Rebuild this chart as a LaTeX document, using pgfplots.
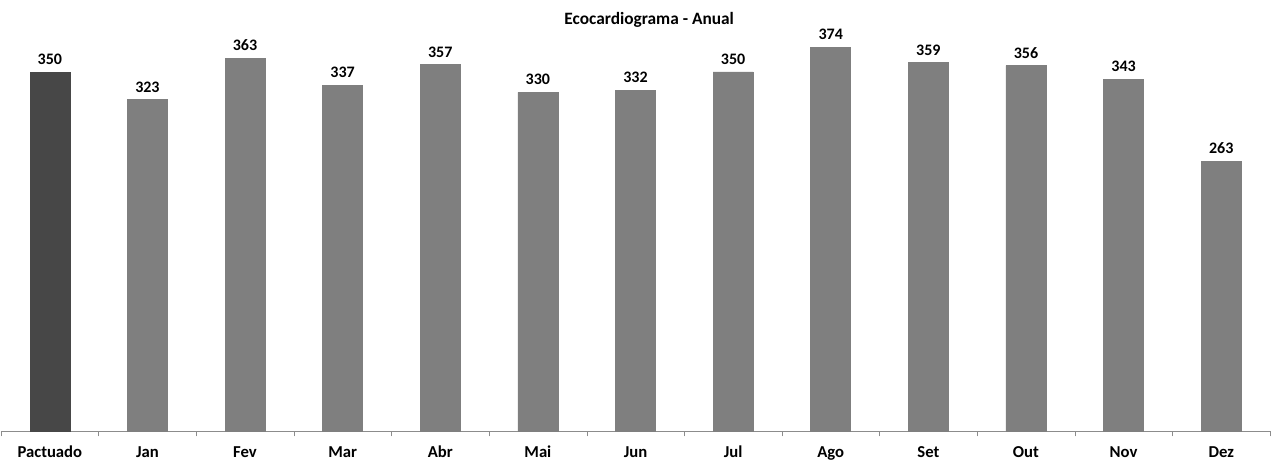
\documentclass[border=0pt]{standalone}
\usepackage{pgfplots}
\pgfplotsset{compat=1.18}
\usepackage{fontspec}
\setmainfont{Carlito}
\definecolor{darkbar}{HTML}{474747}
\definecolor{graybar}{HTML}{7F7F7F}
\definecolor{axisgray}{HTML}{8C8C8C}
\begin{document}
\begin{tikzpicture}[x=1pt,y=1pt]
\begin{axis}[
  scale only axis,
  width=951.75pt, height=323.25pt,
  xmin=-0.5, xmax=12.5, ymin=0, ymax=420,
  axis x line=bottom, axis y line=none,
  x axis line style={draw=axisgray, -},
  xtick={0,...,12},
  xticklabels={Pactuado,Jan,Fev,Mar,Abr,Mai,Jun,Jul,Ago,Set,Out,Nov,Dez},
  major tick length=0pt,
  minor xtick={-0.5,0.5,...,12.5},
  minor tick length=4pt,
  tick align=outside,
  tick style={draw=axisgray},
  xticklabel style={font=\fontsize{12.5}{14}\selectfont\bfseries, yshift=-7pt, text height=9pt, text depth=2pt},
  ybar, bar width=30pt, bar shift=0pt,
  /pgf/number format/assume math mode=true,
  nodes near coords,
  every node near coord/.append style={font=\fontsize{12}{14}\selectfont\bfseries, yshift=2pt},
  clip=false,
]
\addplot[fill=darkbar, draw=darkbar] coordinates {(0,350)};
\addplot[fill=graybar, draw=graybar] coordinates {
(1,323) (2,363) (3,337) (4,357) (5,330) (6,332) (7,350) (8,374) (9,359) (10,356) (11,343) (12,263)};
\node[font=\fontsize{13}{15}\selectfont\bfseries] at (axis cs:6.14,401) {Ecocardiograma - Anual};
\end{axis}
\path (current axis.south west) ++(-0.75pt,-21.75pt) rectangle ([xshift=0.75pt]current axis.north east);
\end{tikzpicture}
\end{document}
